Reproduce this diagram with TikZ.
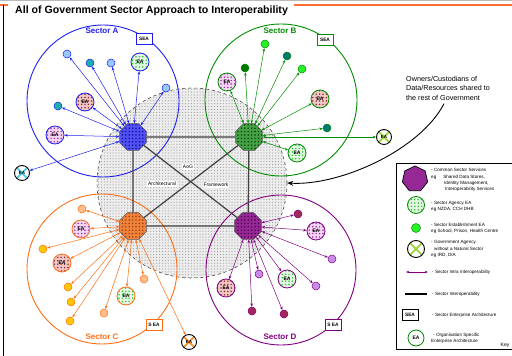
\documentclass[tikz,border=0pt]{standalone}
\usepackage{fontspec}
\setmainfont{Liberation Sans}
\usetikzlibrary{shapes.geometric,arrows.meta,patterns}
\newcommand\fsz[2]{\fontsize{#1pt}{#2pt}\selectfont}
\pgfdeclarepatternformonly{eadots}{\pgfqpoint{-1pt}{-1pt}}{\pgfqpoint{1pt}{1pt}}{\pgfqpoint{3.4pt}{3.4pt}}%
  {\pgfpathcircle{\pgfqpoint{0pt}{0pt}}{0.85pt}\pgfusepath{fill}}
\pgfdeclarepatternformonly{aogdots}{\pgfqpoint{-1pt}{-1pt}}{\pgfqpoint{1pt}{1pt}}{\pgfqpoint{2.9pt}{2.9pt}}%
  {\pgfpathcircle{\pgfqpoint{0pt}{0pt}}{0.6pt}\pgfusepath{fill}}
\definecolor{secA}{RGB}{30,30,240}
\definecolor{hubA}{RGB}{80,80,245}
\definecolor{lblue}{RGB}{150,200,255}
\definecolor{tealA}{RGB}{30,175,175}
\definecolor{secB}{RGB}{0,140,0}
\definecolor{hubB}{RGB}{70,160,70}
\definecolor{lgreen}{RGB}{40,240,40}
\definecolor{dgreen}{RGB}{0,120,0}
\definecolor{tealB}{RGB}{0,120,115}
\definecolor{secC}{RGB}{255,110,20}
\definecolor{hubC}{RGB}{240,130,60}
\definecolor{lorange}{RGB}{255,190,140}
\definecolor{yel}{RGB}{255,200,0}
\definecolor{secD}{RGB}{128,0,128}
\definecolor{hubD}{RGB}{150,40,150}
\definecolor{lpurple}{RGB}{200,140,230}
\definecolor{maroon}{RGB}{160,40,90}
\definecolor{eaG}{RGB}{40,200,40}
\definecolor{eaR}{RGB}{150,40,40}
\definecolor{eaRbg}{RGB}{240,200,200}
\definecolor{eaP}{RGB}{160,50,160}
\definecolor{eaPbg}{RGB}{245,215,245}
\definecolor{xcyan}{RGB}{60,200,230}
\definecolor{xyg}{RGB}{150,210,40}
\definecolor{frameor}{RGB}{255,110,50}
\tikzset{
  seccirc/.style={circle, line width=0.9pt, inner sep=0},
  seclab/.style={font=\bfseries\fsz{8}{9}, inner sep=1pt},
  seabox/.style={draw, line width=0.7pt, fill=white, minimum width=16pt, minimum height=11pt, inner sep=0, font=\bfseries\fsz{4.8}{5}},
  hubnode/.style={regular polygon, regular polygon sides=8, minimum size=29pt, inner sep=0, draw=black!65, line width=0.5pt},
  sm/.style={circle, minimum size=8pt, inner sep=0, draw, line width=0.5pt},
  ea/.style={circle, minimum size=18pt, inner sep=0, draw, line width=0.8pt, font=\bfseries\fsz{5}{5}},
  eagreen/.style={ea, preaction={fill=eaG!12}, pattern=eadots, pattern color=eaG},
  eared/.style={ea, preaction={fill=eaRbg}, pattern=eadots, pattern color=eaR},
  eapurple/.style={ea, preaction={fill=eaPbg}, pattern=eadots, pattern color=eaP},
  agency/.style={circle, minimum size=15pt, inner sep=0, draw=black, line width=0.9pt, fill=white, font=\bfseries\fsz{4.5}{5},
    path picture={\draw[#1, line width=1.6pt] (path picture bounding box.north west) -- (path picture bounding box.south east)
      (path picture bounding box.north east) -- (path picture bounding box.south west);}},
  intra/.style={{Stealth[length=3.4pt,width=2.6pt]}-{Stealth[length=3.4pt,width=2.6pt]}, line width=0.5pt},
  interline/.style={line width=1.2pt, draw=black!75},
  aoglab/.style={fill=white, inner sep=0.8pt, font=\fsz{5}{5}},
  keytext/.style={anchor=west, align=left, font=\fsz{4.6}{6.2}, inner sep=0}
}
\begin{document}
\begin{tikzpicture}[x=1pt,y=-1pt]
\useasboundingbox (0,0) rectangle (512,356);
% frame
\draw[gray!55, line width=1.2pt] (0,0.6) -- (512,0.6);
\draw[frameor, line width=1.6pt] (0,5) -- (8,5);
\draw[frameor, line width=1.6pt] (294,5) -- (512,5);
\draw[black, line width=0.8pt] (3,5) -- (3,356);
\node[anchor=west, font=\bfseries\fsz{10.6}{12}, inner sep=0] (title) at (15,11) {All of Government Sector Approach to Interoperability};

% AoG framework
\node[circle, minimum size=190pt, inner sep=0, draw=gray!60!black, dashed, line width=0.6pt,
  preaction={fill=gray!14}, pattern=aogdots, pattern color=gray!75] (aog) at (192,183) {};

% sector circles
\node[seccirc, draw=secA, minimum size=152pt] (sa) at (103,101) {};
\node[seccirc, draw=secB, minimum size=152pt] (sb) at (281,100) {};
\node[seccirc, draw=secC, minimum size=150pt] (sc) at (102,269) {};
\node[seccirc, draw=secD, minimum size=150pt] (sd) at (281,270) {};

\node[seclab, text=secA] (la) at (102,31) {Sector A};
\node[seclab, text=secB] (lb) at (280,31) {Sector B};
\node[seclab, text=secC] (lc) at (102,337) {Sector C};
\node[seclab, text=secD] (ld) at (280,337) {Sector D};

\node[seabox, draw=secA] (seaA) at (144,39) {SEA};
\node[seabox, draw=secB] (seaB) at (325,40) {SEA};
\node[seabox, draw=secC] (seaC) at (154,325) {S EA};
\node[seabox, draw=secD] (seaD) at (333,325) {S EA};

% hubs
\node[hubnode, preaction={fill=hubA}, pattern=eadots, pattern color=secA!60!black] (ha) at (133,137) {};
\node[hubnode, preaction={fill=hubB}, pattern=eadots, pattern color=dgreen!60!black] (hb) at (249,137) {};
\node[hubnode, preaction={fill=hubC}, pattern=eadots, pattern color=secC!60!black] (hc) at (133,226) {};
\node[hubnode, preaction={fill=hubD}, pattern=eadots, pattern color=secD!60!black] (hd) at (248,226) {};

\draw[interline] (ha) -- (hb) -- (hd) -- (hc) -- (ha);
\draw[interline] (ha) -- (hd);
\draw[interline] (hb) -- (hc);

\node[aoglab] (t1) at (188,167) {AoG};
\node[aoglab] (t2) at (162,184) {Architectural};
\node[aoglab] (t3) at (216,185) {Framework};

% sector A
\node[sm, fill=lblue, draw=secA] (a1) at (67,54) {};
\node[sm, fill=tealA, draw=secA] (a2) at (90,63) {};
\node[sm, fill=lblue, draw=secA] (a3) at (111,63) {};
\node[eagreen, draw=secA] (a4) at (140,62) {EA};
\node[sm, fill=lblue, draw=secA] (a5) at (166,88) {};
\node[eared, draw=secA] (a6) at (85,102) {EA};
\node[sm, fill=tealA, draw=secA] (a7) at (58,106) {};
\node[eapurple, draw=secA] (a8) at (55,135) {EA};
\node[agency=xcyan] (xa) at (22,173) {EA};
\foreach \t in {a1,a2,a3,a4,a5,a6,a7,a8,xa} \draw[intra, secA] (ha) -- (\t);

% sector B
\node[eapurple, draw=secB] (b1) at (227,82) {EA};
\node[sm, fill=dgreen, draw=secB] (b2) at (245,68) {};
\node[sm, fill=lgreen, draw=secB] (b3) at (265,44) {};
\node[sm, fill=tealB, draw=secB] (b4) at (287,56) {};
\node[sm, fill=lgreen, draw=secB] (b5) at (302,69) {};
\node[eared, draw=secB] (b6) at (320,99) {EA};
\node[sm, fill=tealB, draw=secB] (b7) at (327,128) {};
\node[eagreen, draw=secB] (b8) at (297,153) {EA};
\node[agency=xyg] (xb) at (384,137) {EA};
\foreach \t in {b1,b2,b3,b4,b5,b6,b7,b8,xb} \draw[intra, secB] (hb) -- (\t);

% sector C
\node[sm, fill=lorange, draw=secC] (c1) at (82,209) {};
\node[eapurple, draw=secC] (c2) at (81,229) {EA};
\node[sm, fill=yel, draw=secC] (c3) at (43,249) {};
\node[eared, draw=secC] (c4) at (62,263) {EA};
\node[sm, fill=yel, draw=secC] (c5) at (68,287) {};
\node[sm, fill=yel, draw=secC] (c6) at (71,302) {};
\node[sm, fill=yel, draw=secC] (c7) at (70,321) {};
\node[sm, fill=lorange, draw=secC] (c8) at (104,313) {};
\node[eagreen, draw=secC] (c9) at (126,296) {EA};
\node[sm, fill=lorange, draw=secC] (c10) at (144,279) {};
\node[agency=secC!70!yel] (xc) at (189,342) {EA};
\foreach \t in {c1,c2,c3,c4,c5,c6,c7,c8,c9,c10,xc} \draw[intra, secC] (hc) -- (\t);

% sector D
\node[sm, fill=maroon, draw=secD] (d1) at (298,214) {};
\node[eapurple, draw=secD] (d2) at (316,231) {EA};
\node[sm, fill=lpurple, draw=secD] (d3) at (332,259) {};
\node[sm, fill=lpurple, draw=secD] (d4) at (316,286) {};
\node[eagreen, draw=secD] (d5) at (287,279) {EA};
\node[sm, fill=lpurple, draw=secD] (d6) at (259,274) {};
\node[eared, draw=secD] (d7) at (226,288) {EA};
\node[sm, fill=maroon, draw=secD] (d8) at (252,311) {};
\node[sm, fill=maroon, draw=secD] (d9) at (284,314) {};
\foreach \t in {d1,d2,d3,d4,d5,d6,d7,d8,d9} \draw[intra, secD] (hd) -- (\t);

% annotation
\node[anchor=north west, align=left, font=\fsz{7.2}{9.5}, inner sep=0] (own) at (406,76)
  {Owners/Custodians of\\Data/Resources shared to\\the rest of Government};
\draw[-{Stealth[length=6pt,width=5pt]}, line width=0.9pt] ([xshift=-4pt,yshift=-3pt]own.south)
  .. controls (420,150) and (340,186) .. (aog.east);

% legend
\draw[black, line width=0.8pt] (520,163) -- (396,163) -- (396,349) -- (520,349);
\node[regular polygon, regular polygon sides=7, minimum size=26pt, inner sep=0, draw=black, line width=0.7pt, fill=hubD] (k1) at (415,179) {};
\node[keytext] (k1t) at (431,180) {- Common Sector Services\\eg\hspace{7pt}Shared Data Stores,\\\hspace{13pt}Identity Management,\\\hspace{14pt}Interoperability Services};
\node[eagreen, draw=secB, minimum size=17pt] (k2) at (416,205) {};
\node[keytext] (k2t) at (431,206) {- Sector Agency EA\\eg NZDA, CCH DHB};
\node[sm, fill=lgreen, draw=secB, minimum size=9pt] (k3) at (416,228) {};
\node[keytext] (k3t) at (431,228) {- Sector Establishment EA\\eg School, Prison, Health Centre};
\node[agency=xyg, minimum size=17pt] (k4) at (416,249) {};
\node[keytext] (k4t) at (431,249) {- Government Agency\\\hspace{3pt}without a Natural Sector\\eg IRD, DIA};
\coordinate (k5a) at (406,272);
\coordinate (k5b) at (428,272);
\draw[intra, secD, line width=0.8pt] (k5a) -- (k5b);
\node[keytext] (k5t) at (432,272) {- Sector Intra Interoperability};
\coordinate (k6a) at (405,294);
\coordinate (k6b) at (427,294);
\draw[black, line width=1.3pt] (k6a) -- (k6b);
\node[keytext] (k6t) at (432,294) {- Sector Interoperability};
\node[seabox, draw=black] (k7) at (410,315) {SEA};
\node[keytext] (k7t) at (432,315) {- Sector Enterprise Architecture};
\node[ea, draw=secB, fill=white, minimum size=16pt] (k8) at (416,338) {EA};
\node[keytext] (k8t) at (431,338) {\hspace{2pt}- Organisation Specific\\Enterprise Architecture};
\node[font=\fsz{5}{5}, inner sep=0] (key) at (505,345) {Key};
\end{tikzpicture}
\end{document}
